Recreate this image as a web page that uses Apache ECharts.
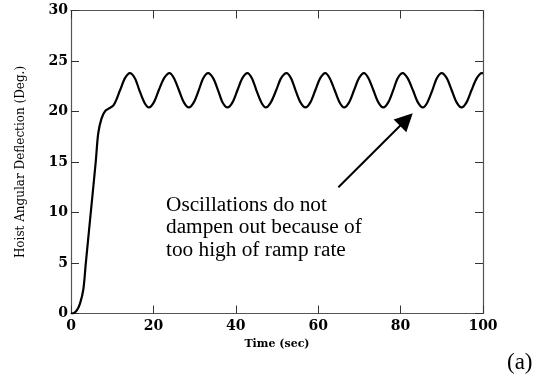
<!DOCTYPE html>
<html>
<head>
<meta charset="utf-8">
<script src="https://cdn.jsdelivr.net/npm/echarts@6/dist/echarts.min.js"></script>
<style>
  html, body { margin: 0; padding: 0; background: #fff; }
  #chart { width: 539px; height: 379px; }
</style>
</head>
<body>
<div id="chart"></div>
<script>
// Hoist angular deflection response (time in seconds, deflection in degrees)
const timeSec = [
  0, 0.6, 1.4, 2.2, 3.0, 3.6, 4.8, 6.0, 6.6, 7.4, 8.4, 10.3, 11.9, 13.1,
  14.3, 15.5, 16.6, 17.8, 18.9, 20.1, 21.3, 22.6, 23.9, 25.0, 26.2, 27.4,
  28.6, 29.8, 31.0, 32.1, 33.3, 34.5, 35.7, 36.8, 38.0, 39.2, 40.4, 41.6,
  42.8, 43.9, 45.0, 46.2, 47.3, 48.5, 49.8, 51.0, 52.3, 53.4, 54.5, 55.7,
  56.9, 58.1, 59.3, 60.5, 61.7, 62.8, 64.0, 65.2, 66.3, 67.5, 68.7, 69.9,
  71.1, 72.2, 73.4, 74.6, 75.8, 77.0, 78.2, 79.3, 80.5, 81.7, 83.0, 84.2,
  85.4, 86.5, 87.7, 88.8, 90.0, 91.2, 92.4, 93.6, 94.8, 96.0, 97.2, 98.5,
  99.7, 100
];
const deflectionDeg = [
  0, 0.02, 0.3, 1.0, 2.4, 5.0, 10.0, 15.0, 17.8, 19.3, 20.1, 20.6, 22.1, 23.3,
  23.8, 23.3, 22.1, 20.9, 20.4, 20.9, 22.1, 23.3, 23.8, 23.3, 22.1, 20.9,
  20.4, 20.9, 22.1, 23.3, 23.8, 23.3, 22.1, 20.9, 20.4, 20.9, 22.1, 23.3,
  23.8, 23.3, 22.1, 20.9, 20.4, 20.9, 22.1, 23.3, 23.8, 23.3, 22.1, 20.9,
  20.4, 20.9, 22.1, 23.3, 23.8, 23.3, 22.1, 20.9, 20.4, 20.9, 22.1, 23.3,
  23.8, 23.3, 22.1, 20.9, 20.4, 20.9, 22.1, 23.3, 23.8, 23.3, 22.1, 20.9,
  20.4, 20.9, 22.1, 23.3, 23.8, 23.3, 22.1, 20.9, 20.4, 20.9, 22.1, 23.3,
  23.8, 23.78
];

// Axis ticks
const xTicks = [0, 20, 40, 60, 80, 100];
const yTicks = [0, 5, 10, 15, 20, 25, 30];

// Annotation arrow: tail and head in data units
const arrowTail = [64.9, 12.5];
const arrowHead = [81.4, 19.2];
const noteLines = [
  'Oscillations do not',
  'dampen out because of',
  'too high of ramp rate'
];

const chart = echarts.init(document.getElementById('chart'), null, { renderer: 'canvas' });

const frameLine = { show: true, onZero: false, lineStyle: { color: '#555', width: 1.2 } };
const innerTick = { show: true, inside: true, length: 8, lineStyle: { color: '#333' } };
const tickFont = { fontFamily: 'DejaVu Serif', fontWeight: 'bold', fontSize: 14, color: '#000' };

const points = timeSec.map((t, i) => [t, deflectionDeg[i]]);

chart.setOption({
  animation: false,
  backgroundColor: '#fff',
  grid: { left: 71, right: 56, top: 10.5, bottom: 65.5, containLabel: false },
  xAxis: [
    {
      type: 'value', position: 'bottom',
      min: xTicks[0], max: xTicks[xTicks.length - 1], interval: 20,
      axisLine: frameLine, axisTick: innerTick,
      axisLabel: Object.assign({ margin: 6 }, tickFont),
      splitLine: { show: false },
      name: 'Time (sec)', nameLocation: 'middle', nameGap: 24,
      nameTextStyle: { fontFamily: 'DejaVu Serif', fontWeight: 'bold', fontSize: 11, color: '#000' }
    },
    {
      type: 'value', position: 'top',
      min: xTicks[0], max: xTicks[xTicks.length - 1], interval: 20,
      axisLine: frameLine, axisTick: innerTick,
      axisLabel: { show: false },
      splitLine: { show: false }
    }
  ],
  yAxis: [
    {
      type: 'value', position: 'left',
      min: yTicks[0], max: yTicks[yTicks.length - 1], interval: 5,
      axisLine: frameLine, axisTick: innerTick,
      axisLabel: Object.assign({ margin: 3 }, tickFont),
      splitLine: { show: false },
      name: 'Hoist Angular Deflection (Deg.)', nameLocation: 'middle', nameGap: 44,
      nameRotate: 90,
      nameTextStyle: { fontFamily: 'DejaVu Serif', fontSize: 12, color: '#000' }
    },
    {
      type: 'value', position: 'right',
      min: yTicks[0], max: yTicks[yTicks.length - 1], interval: 5,
      axisLine: frameLine, axisTick: innerTick,
      axisLabel: { show: false },
      splitLine: { show: false }
    }
  ],
  series: [
    {
      type: 'line',
      data: points,
      xAxisIndex: 0, yAxisIndex: 0,
      smooth: 0.3,
      showSymbol: false,
      lineStyle: { color: '#000', width: 2.2 },
      markLine: {
        silent: true,
        symbol: ['none', 'triangle'],
        symbolSize: 18,
        label: { show: false },
        lineStyle: { color: '#000', width: 2, type: 'solid' },
        itemStyle: { color: '#000' },
        data: [[{ coord: arrowTail }, { coord: arrowHead }]]
      }
    }
  ],
  graphic: [
    {
      type: 'text', left: 166, top: 194,
      style: {
        text: noteLines.join('\n'),
        fontFamily: 'Liberation Serif', fontSize: 21.3, lineHeight: 22.5,
        fill: '#000'
      }
    },
    {
      type: 'text', left: 507, top: 351,
      style: { text: '(a)', fontFamily: 'Liberation Serif', fontSize: 23, fill: '#000' }
    }
  ]
});
</script>
</body>
</html>
